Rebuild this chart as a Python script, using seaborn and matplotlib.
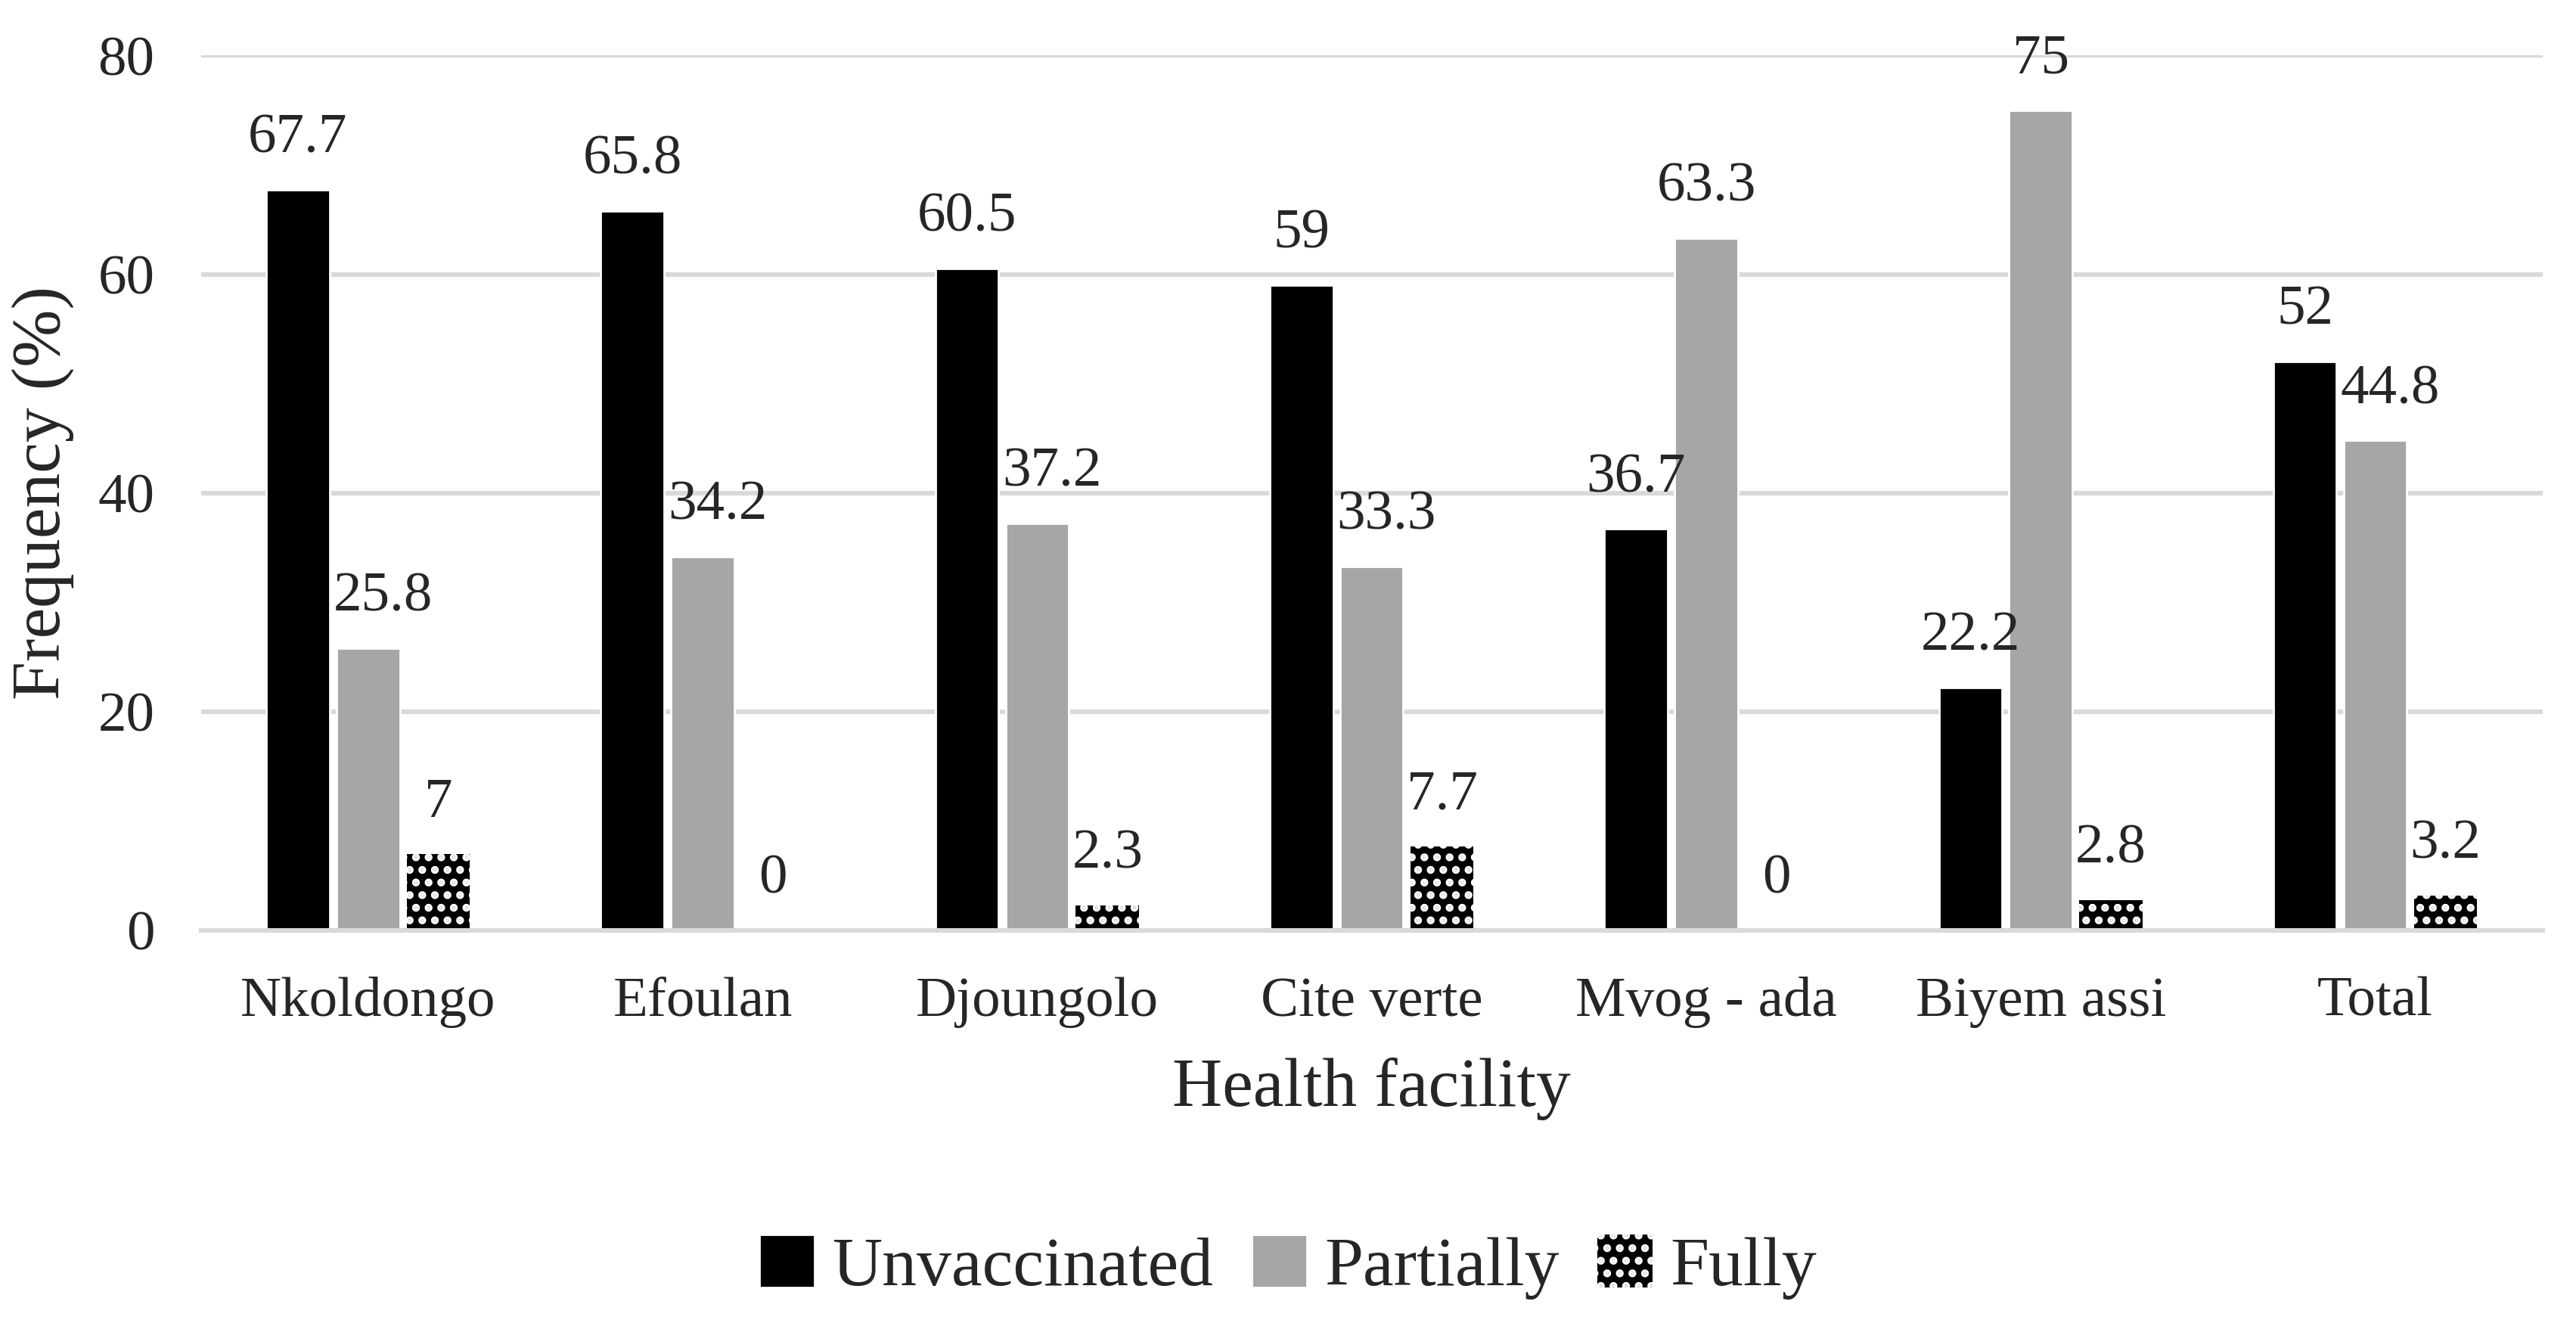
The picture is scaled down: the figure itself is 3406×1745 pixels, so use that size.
import pandas as pd
import numpy as np
import matplotlib
matplotlib.use('Agg')
import matplotlib.pyplot as plt
from matplotlib.patches import Patch
import seaborn as sns

# data
facilities = ['Nkoldongo', 'Efoulan', 'Djoungolo', 'Cite verte', 'Mvog - ada', 'Biyem assi', 'Total']
status = ['Unvaccinated', 'Partially', 'Fully']
unvaccinated = [67.7, 65.8, 60.5, 59, 36.7, 22.2, 52]
partially = [25.8, 34.2, 37.2, 33.3, 63.3, 75, 44.8]
fully = [7, 0, 2.3, 7.7, 0, 2.8, 3.2]
y_ticks = [0, 20, 40, 60, 80]

colors = {'Unvaccinated': '#000000', 'Partially': '#a6a6a6', 'Fully': '#000000'}

df = pd.DataFrame({
    'facility': facilities * 3,
    'status': np.repeat(status, len(facilities)),
    'freq': unvaccinated + partially + fully,
})

sns.set_style('white')
plt.rcParams['font.family'] = ['Liberation Serif', 'DejaVu Serif']
plt.rcParams['hatch.linewidth'] = 2.5

fig = plt.figure(figsize=(17.03, 8.725), dpi=200)
ax = fig.add_axes([0.078, 0.295, 0.909, 0.663])

sns.barplot(data=df, x='facility', y='freq', hue='status', order=facilities,
            hue_order=status, palette=colors, width=0.63, gap=0.1,
            saturation=1, legend=False, ax=ax)

# hatch the "Fully" bars (black with white pattern)
for bar in ax.containers[2]:
    bar.set_hatch('..')
    bar.set_linewidth(0)
    try:
        bar.set_hatchcolor('white')
    except AttributeError:
        bar.set_edgecolor('white')

for i, cont in enumerate(ax.containers):
    texts = ax.bar_label(cont, fmt='{:g}', padding=12, fontsize=27)
    if i == 1:
        # nudge grey-bar labels right when the black bar next to them is taller
        for t, u, p in zip(texts, unvaccinated, partially):
            if u > p:
                t.xyann = (7, 12)

ax.set_ylim(0, 80)
ax.set_yticks(y_ticks)
ax.set_xlim(-0.5, len(facilities) - 0.5)
ax.yaxis.grid(True, color='#d9d9d9', linewidth=2.2)
ax.set_axisbelow(True)
for s in ['top', 'right', 'left']:
    ax.spines[s].set_visible(False)
ax.spines['bottom'].set_color('#d9d9d9')
ax.spines['bottom'].set_linewidth(2.2)

# category separators as tick marks
ax.set_xticks(np.arange(-0.5, len(facilities), 1), minor=True)
ax.tick_params(axis='x', which='minor', length=10, width=2.2, color='#d9d9d9', direction='out')
ax.tick_params(axis='x', which='major', length=0, pad=22, labelsize=27)
ax.tick_params(axis='y', length=0, pad=22, labelsize=27)

ax.set_xlabel('Health facility', fontsize=33, labelpad=14)
ax.set_ylabel('Frequency (%)', fontsize=33)
ax.yaxis.set_label_coords(-0.054, 0.5)

handles = [Patch(facecolor='#000000', label='Unvaccinated'),
           Patch(facecolor='#a6a6a6', label='Partially'),
           Patch(facecolor='#000000', hatch='..', edgecolor='white', linewidth=0, label='Fully')]
fig.legend(handles=handles, loc='center', bbox_to_anchor=(0.5, 0.04), ncol=3, frameon=False,
           fontsize=33, handlelength=0.8, handleheight=0.8, handletextpad=0.25, columnspacing=0.55)

fig.savefig('out.png', dpi=200, facecolor='white')
